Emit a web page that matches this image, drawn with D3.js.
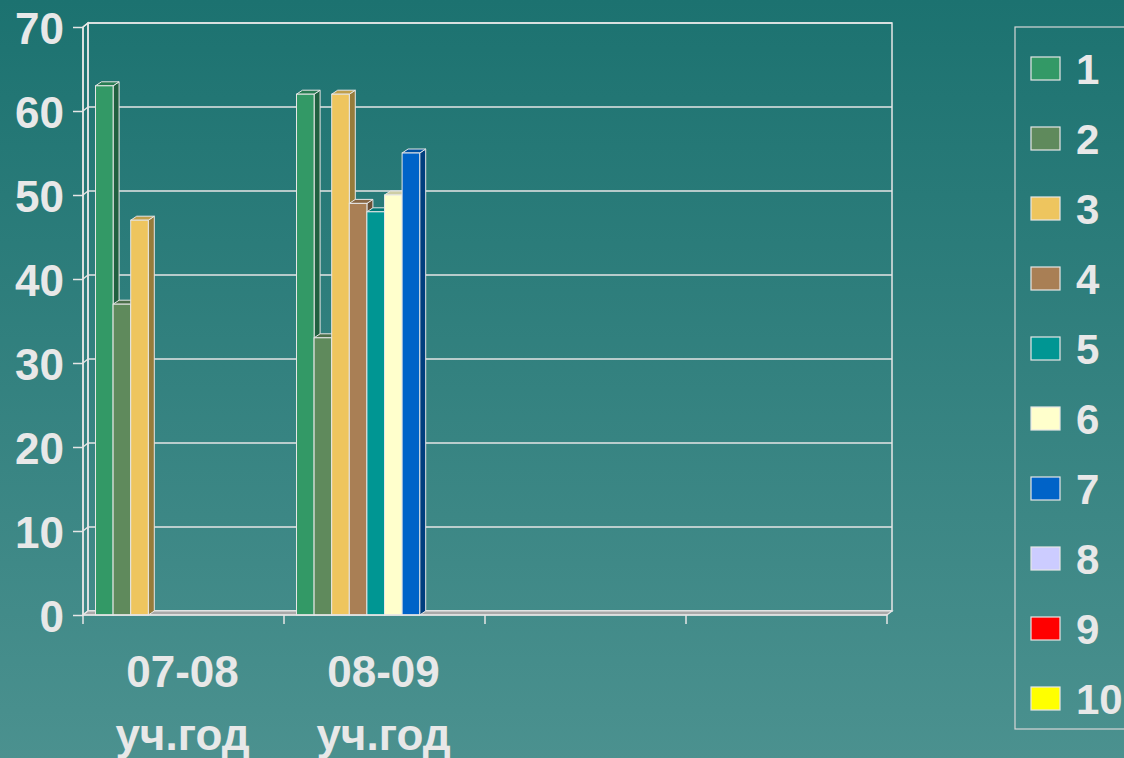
<!DOCTYPE html>
<html>
<head>
<meta charset="utf-8">
<script src="https://cdn.jsdelivr.net/npm/d3@7/dist/d3.min.js"></script>
<style>
  html, body { margin: 0; padding: 0; overflow: hidden; }
  svg { display: block; }
</style>
</head>
<body>
<svg id="chart" width="1124" height="758"></svg>
<script>
// Categories (school years), two-line labels
const categories = ["c1", "c2", "c3", "c4"];
const categoryLines = [["07-08", "уч.год"], ["08-09", "уч.год"], ["", ""], ["", ""]];

// Series names and their values per category
const seriesNames = ["1", "2", "3", "4", "5", "6", "7", "8", "9", "10"];
const seriesColors = ["#339966", "#5f8a5c", "#eec55e", "#a97f55", "#009693", "#ffffcc", "#0063c8", "#ccccff", "#ff0000", "#ffff00"];
const values = [
  [63, 37, 47, 0, 0, 0, 0, 0, 0, 0],
  [62, 33, 62, 49, 48, 50, 55, 0, 0, 0],
  [0, 0, 0, 0, 0, 0, 0, 0, 0, 0],
  [0, 0, 0, 0, 0, 0, 0, 0, 0, 0]
];
const yTicks = [0, 10, 20, 30, 40, 50, 60, 70];

const svg = d3.select("#chart");
const W = 1124, H = 758;

// background gradient
const defs = svg.append("defs");
const bg = defs.append("linearGradient").attr("id", "bg").attr("x1", 0).attr("y1", 0).attr("x2", 0).attr("y2", 1);
bg.append("stop").attr("offset", "0%").attr("stop-color", "#1c7270");
bg.append("stop").attr("offset", "100%").attr("stop-color", "#4b918f");
svg.append("rect").attr("width", W).attr("height", H).attr("fill", "url(#bg)");

// plot geometry (front plane) and 3D depth of the walls
const x0 = 83, x1 = 887, yBottom = 615, yTop = 27;
const wdx = 5, wdy = -4;     // wall depth
const bdx = 6, bdy = -4;     // bar depth

const y = d3.scaleLinear().domain([0, 70]).range([yBottom, yTop]);
const xCat = d3.scaleBand().domain(categories).range([x0, x1]).padding(0);
const xSer = d3.scaleBand().domain(seriesNames).range([0, xCat.bandwidth()]).paddingInner(0).paddingOuter(0.71);

const lineCol = "#e6e6e6";
const g = svg.append("g");

// back wall
g.append("rect")
  .attr("x", x0 + wdx).attr("y", yTop + wdy)
  .attr("width", x1 - x0).attr("height", yBottom - yTop)
  .attr("fill", "none").attr("stroke", lineCol).attr("stroke-width", 1.5);

// left wall
g.append("path")
  .attr("d", `M${x0},${yTop}L${x0 + wdx},${yTop + wdy}L${x0 + wdx},${yBottom + wdy}L${x0},${yBottom}Z`)
  .attr("fill", "none").attr("stroke", lineCol).attr("stroke-width", 1.5);

// gridlines on back wall and left wall
yTicks.forEach(t => {
  const fy = y(t);
  g.append("line").attr("x1", x0 + wdx).attr("x2", x1 + wdx).attr("y1", fy + wdy).attr("y2", fy + wdy)
    .attr("stroke", lineCol).attr("stroke-width", 1.5);
  g.append("line").attr("x1", x0).attr("x2", x0 + wdx).attr("y1", fy).attr("y2", fy + wdy)
    .attr("stroke", lineCol).attr("stroke-width", 1.5);
});

// floor
g.append("path")
  .attr("d", `M${x0},${yBottom}L${x0 + wdx},${yBottom + wdy}L${x1 + wdx},${yBottom + wdy}L${x1},${yBottom}Z`)
  .attr("fill", "#a8a8a8").attr("stroke", lineCol).attr("stroke-width", 1.2);

// bars (zero values lie flat on the floor and leave no visible column)
const bars = [];
categories.forEach((c, ci) => {
  seriesNames.forEach((s, si) => {
    bars.push({ c, s, si, v: values[ci][si] });
  });
});

bars.filter(d => d.v > 0).forEach(d => {
  const bx = xCat(d.c) + xSer(d.s);
  const bw = xSer.bandwidth();
  const top = y(d.v);
  const col = d3.color(seriesColors[d.si]);
  const bar = g.append("g");
  // side face
  bar.append("path")
    .attr("d", `M${bx + bw},${top}L${bx + bw + bdx},${top + bdy}L${bx + bw + bdx},${yBottom + bdy}L${bx + bw},${yBottom}Z`)
    .attr("fill", col.darker(1.3)).attr("stroke", lineCol).attr("stroke-width", 1);
  // top face
  bar.append("path")
    .attr("d", `M${bx},${top}L${bx + bdx},${top + bdy}L${bx + bw + bdx},${top + bdy}L${bx + bw},${top}Z`)
    .attr("fill", col.darker(0.6)).attr("stroke", lineCol).attr("stroke-width", 1);
  // front face
  bar.append("rect")
    .attr("x", bx).attr("y", top).attr("width", bw).attr("height", yBottom - top)
    .attr("fill", col).attr("stroke", lineCol).attr("stroke-width", 1);
});

// front axes
g.append("line").attr("x1", x0).attr("x2", x0).attr("y1", yTop).attr("y2", yBottom)
  .attr("stroke", lineCol).attr("stroke-width", 1.5);
g.append("line").attr("x1", x0).attr("x2", x1).attr("y1", yBottom).attr("y2", yBottom)
  .attr("stroke", lineCol).attr("stroke-width", 1.5);

const yAxis = d3.axisLeft(y).tickValues(yTicks).tickSize(10).tickPadding(8).tickFormat(d3.format("d"));
const ya = svg.append("g").attr("transform", `translate(${x0},0)`).call(yAxis);
ya.select(".domain").remove();
ya.selectAll(".tick line").attr("stroke", lineCol).attr("stroke-width", 1.5);
ya.selectAll(".tick text")
  .attr("fill", "#e8e8e8").attr("font-family", "Liberation Sans, Arial, sans-serif")
  .attr("font-size", 44).attr("font-weight", "bold").attr("dy", "0.38em").attr("x", -19);

// category ticks at band boundaries
const boundaries = categories.map(c => xCat(c)).concat([x1]);
boundaries.forEach(bx => {
  g.append("line").attr("x1", bx).attr("x2", bx).attr("y1", yBottom).attr("y2", yBottom + 9)
    .attr("stroke", lineCol).attr("stroke-width", 1.5);
});

// category labels
categories.forEach((c, ci) => {
  const cx = xCat(c) + xCat.bandwidth() / 2 - 1;
  const t = svg.append("text")
    .attr("text-anchor", "middle")
    .attr("fill", "#e8e8e8").attr("font-family", "Liberation Sans, Arial, sans-serif")
    .attr("font-size", 44).attr("font-weight", "bold");
  t.append("tspan").attr("x", cx).attr("y", 687).text(categoryLines[ci][0]);
  t.append("tspan").attr("x", cx).attr("y", 750).text(categoryLines[ci][1]);
});

// legend
const lg = svg.append("g");
lg.append("rect").attr("x", 1015).attr("y", 27).attr("width", 120).attr("height", 702)
  .attr("fill", "none").attr("stroke", "#d8d8d8").attr("stroke-width", 1.2);
seriesNames.forEach((s, i) => {
  const cy = 69 + i * 70;
  lg.append("rect").attr("x", 1031).attr("y", cy - 12).attr("width", 29).attr("height", 23)
    .attr("fill", seriesColors[i]).attr("stroke", "#e6e6e6").attr("stroke-width", 1.2);
  lg.append("text").attr("x", 1076).attr("y", cy).attr("dy", "0.36em")
    .attr("fill", "#e8e8e8").attr("font-family", "Liberation Sans, Arial, sans-serif")
    .attr("font-size", 42).attr("font-weight", "bold").text(s);
});
</script>
</body>
</html>
